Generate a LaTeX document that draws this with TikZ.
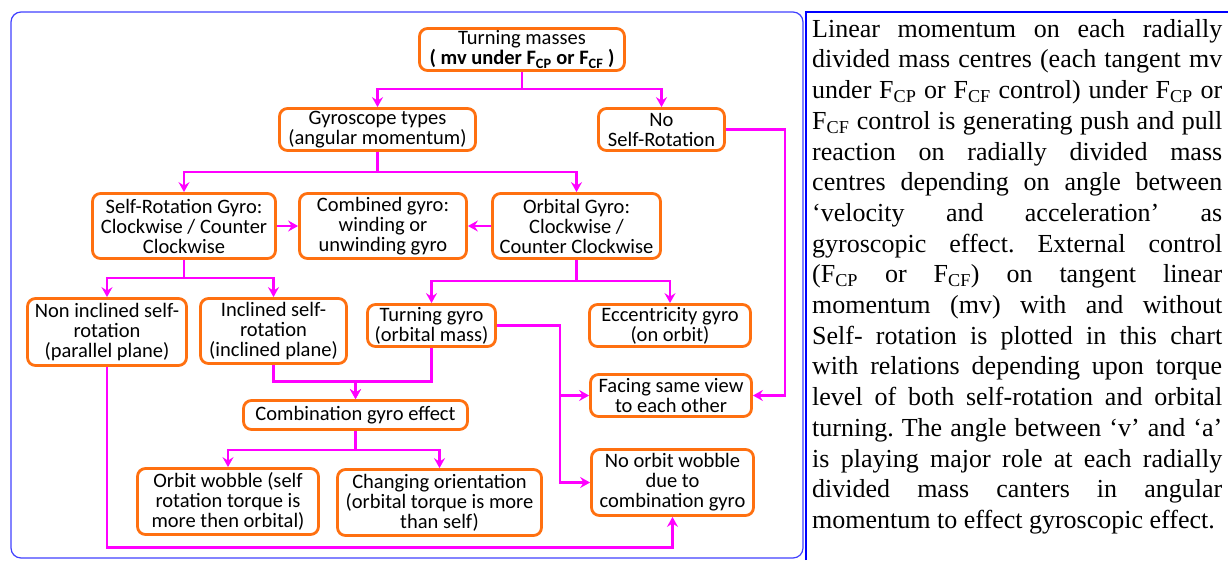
\documentclass[tikz,border=0pt]{standalone}
\usepackage{fontspec}
\setmainfont{Carlito}
\newfontfamily\notefont{Liberation Serif}
\usetikzlibrary{arrows.meta}
\definecolor{boxorange}{RGB}{255,112,16}
\definecolor{linkmagenta}{RGB}{255,0,255}
\begin{document}
\begin{tikzpicture}[x=1pt, y=-1pt,
            gbox/.style={draw=boxorange, line width=2.8pt, rounded corners=8pt, fill=white, inner sep=0pt, align=center, font=\fontsize{20.5}{20}\selectfont},
            link/.style={draw=linkmagenta, line width=2.4pt},
            arr/.style={link, -{Stealth[length=10pt, width=11pt, inset=3.5pt]}}]
            \useasboundingbox (0,0) rectangle (1228,560);
            \draw[blue!75, line width=1.2pt, rounded corners=10pt] (11,12) rectangle (803,558);
            \draw[blue, line width=2pt] (806,560) -- (806,12) -- (1228,12);
            \node[gbox, minimum width=205pt, minimum height=42pt] (tm) at (522,49.5) {Turning masses\\\textbf{( mv under F\textsubscript{CP} or F\textsubscript{CF} )}};
            \node[gbox, minimum width=196pt, minimum height=42pt] (gt) at (377.5,129.5) {Gyroscope types\\(angular momentum)};
            \node[gbox, minimum width=126pt, minimum height=42pt] (nsr) at (661.5,129.5) {No\\Self-Rotation};
            \node[gbox, minimum width=183pt, minimum height=65pt] (srg) at (184,226) {Self-Rotation Gyro:\\Clockwise / Counter\\Clockwise};
            \node[gbox, minimum width=167pt, minimum height=65pt] (cg) at (383,226) {Combined gyro:\\winding or\\unwinding gyro};
            \node[gbox, minimum width=168pt, minimum height=65pt] (og) at (576.5,226) {Orbital Gyro:\\Clockwise /\\Counter Clockwise};
            \node[gbox, minimum width=159pt, minimum height=67pt] (nis) at (107,332) {Non inclined self-\\rotation\\(parallel plane)};
            \node[gbox, minimum width=146pt, minimum height=65pt] (isr) at (273.5,331) {Inclined self-\\rotation\\(inclined plane)};
            \node[gbox, minimum width=128pt, minimum height=42pt] (tg) at (431.5,325.5) {Turning gyro\\(orbital mass)};
            \node[gbox, minimum width=161pt, minimum height=42pt] (eg) at (670,325.5) {Eccentricity gyro\\(on orbit)};
            \node[gbox, minimum width=161pt, minimum height=42pt] (fsv) at (671,395.5) {Facing same view\\to each other};
            \node[gbox, minimum width=224pt, minimum height=29pt] (cge) at (355.5,415) {Combination gyro effect};
            \node[gbox, minimum width=162pt, minimum height=66pt] (now) at (672.5,482.5) {No orbit wobble\\due to\\combination gyro};
            \node[gbox, minimum width=181pt, minimum height=66pt] (ow) at (228,501.5) {Orbit wobble (self\\rotation torque is\\more then orbital)};
            \node[gbox, minimum width=204pt, minimum height=66pt] (co) at (439.5,502.5) {Changing orientation\\(orbital torque is more\\than self)};
            \draw[arr] (tm.south) -- ++(0,17) -| (gt.north);
            \draw[arr] (tm.south) -- ++(0,17) -| (nsr.north);
            \draw[arr] (gt.south) -- ++(0,20) -| (srg.north);
            \draw[arr] (gt.south) -- ++(0,20) -| (og.north);
            \draw[arr] (srg.east) -- (cg.west);
            \draw[arr] (og.west) -- (cg.east);
            \draw[arr] (srg.south) -- ++(0,18) -| (nis.north);
            \draw[arr] (srg.south) -- ++(0,18) -| (isr.north);
            \draw[arr] (og.south) -- ++(0,21) -| (tg.north);
            \draw[arr] (og.south) -- ++(0,21) -| (eg.north);
            \draw[arr] (nsr.east) -- ++(59,0) |- (fsv.east);
            \draw[arr] (tg.east) -- ++(63,0) |- (fsv.west);
            \draw[arr] (tg.east) -- ++(63,0) |- (now.west);
            \draw[arr] (isr.south) -- ++(0,16.5) -| (cge.north);
            \draw[arr] (tg.south) -- ++(0,33.5) -| (cge.north);
            \draw[arr] (cge.south) -- ++(0,19) -| (ow.north);
            \draw[arr] (cge.south) -- ++(0,19) -| (co.north);
            \draw[arr] (nis.south) -- ++(0,180.5) -| (now.south);
            \node[anchor=north west, inner sep=0pt, text width=410pt, align=justify, font=\notefont\fontsize{26}{30.7}\selectfont] (note) at (812,19) {\hyphenpenalty=10000 \tolerance=10000 \frenchspacing
            Linear momentum on each radially\linebreak
            divided mass centres (each tangent mv\linebreak
            under F\textsubscript{CP} or F\textsubscript{CF} control) under F\textsubscript{CP} or\linebreak
            F\textsubscript{CF} control is generating push and pull\linebreak
            reaction on radially divided mass\linebreak
            centres depending on angle between\linebreak
            ‘velocity and acceleration’ as\linebreak
            gyroscopic effect. External control\linebreak
            (F\textsubscript{CP} or F\textsubscript{CF}) on tangent linear\linebreak
            momentum (mv) with and without\linebreak
            Self- rotation is plotted in this chart\linebreak
            with relations depending upon torque\linebreak
            level of both self-rotation and orbital\linebreak
            turning. The angle between ‘v’ and ‘a’\linebreak
            is playing major role at each radially\linebreak
            divided mass canters in angular\linebreak
            momentum to effect gyroscopic effect.};
        \end{tikzpicture}
\end{document}
